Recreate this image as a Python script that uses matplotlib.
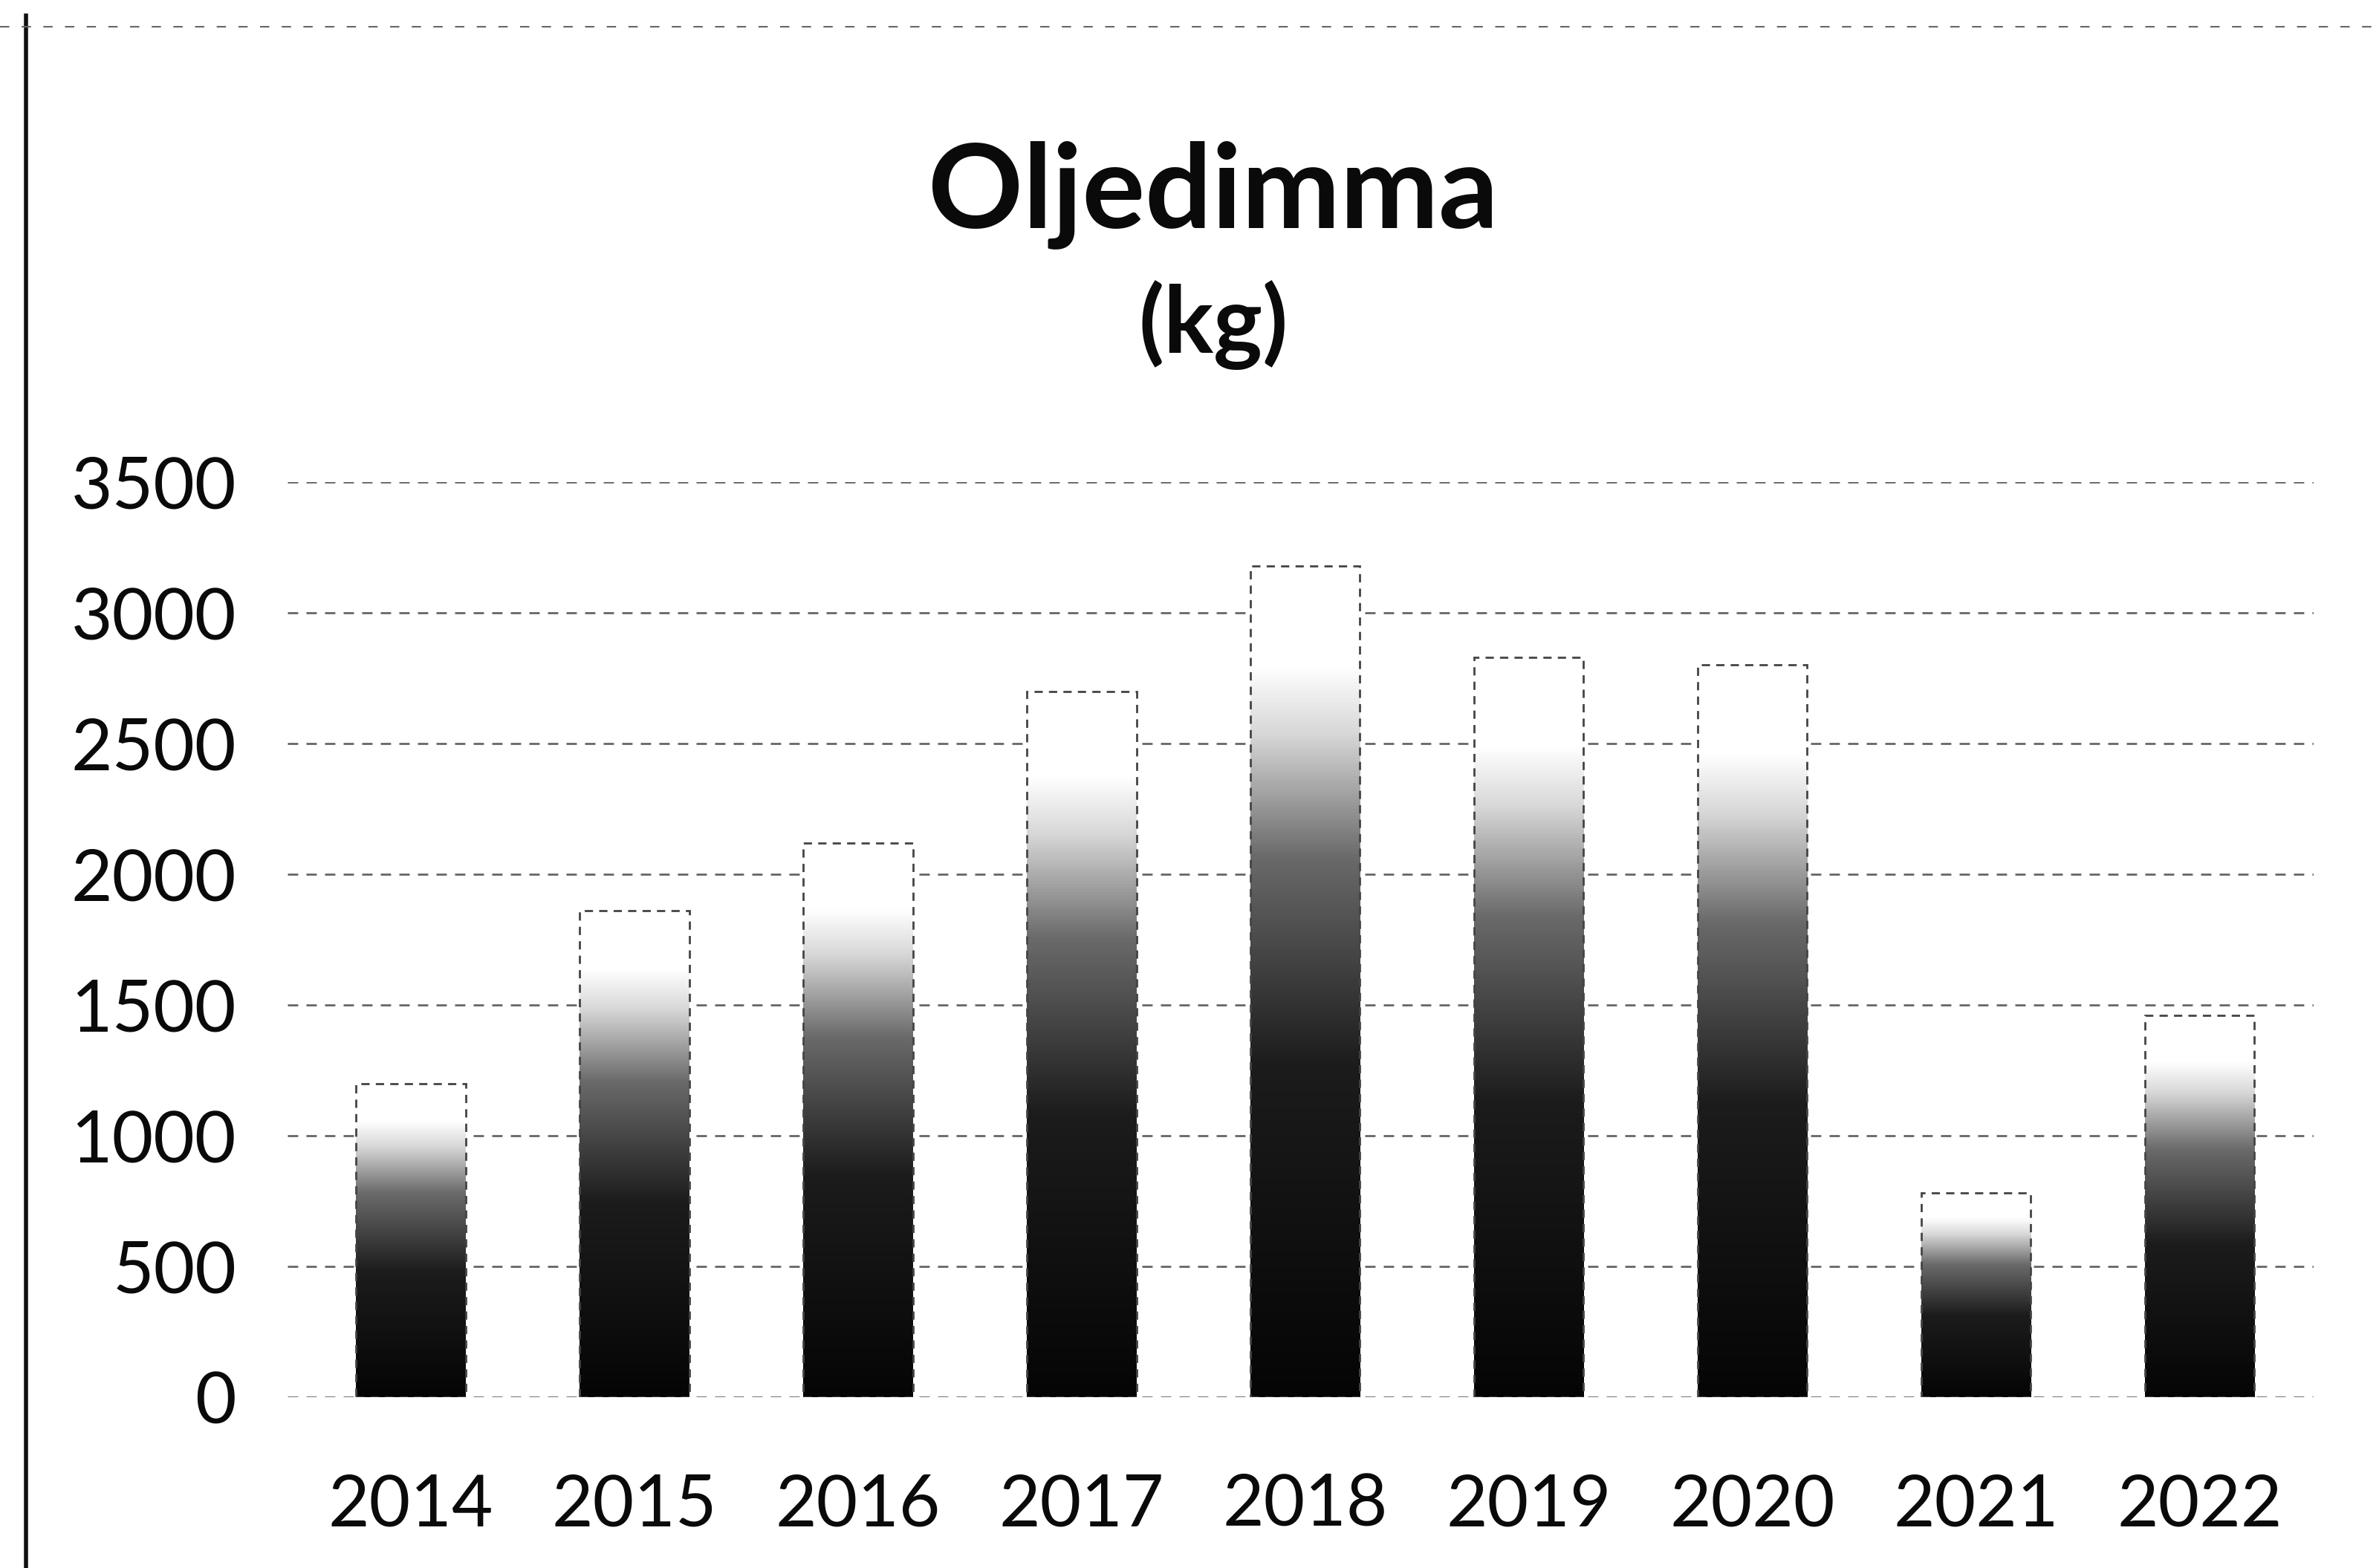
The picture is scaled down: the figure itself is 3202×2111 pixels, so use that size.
import numpy as np
import matplotlib
matplotlib.use('Agg')
import matplotlib.pyplot as plt
from matplotlib.colors import LinearSegmentedColormap
from matplotlib.lines import Line2D

years = ['2014', '2015', '2016', '2017', '2018', '2019', '2020', '2021', '2022']
kg = [1200, 1860, 2120, 2700, 3180, 2830, 2800, 780, 1460]
yticks = [0, 500, 1000, 1500, 2000, 2500, 3000, 3500]

plt.rcParams['font.family'] = ['Lato', 'DejaVu Sans']

fig = plt.figure(figsize=(32.02, 21.11), dpi=100)
ax = fig.add_axes([0.121, 0.109, 0.8515, 0.5836])

x = np.arange(len(years))
bars = ax.bar(x, kg, width=0.49, color='none', edgecolor='#444444',
              linewidth=2, linestyle=(0, (4, 3)), zorder=3)

# dark at the bottom, fading to white near the top (like the scan)
cmap = LinearSegmentedColormap.from_list(
    'scan', [(0, '#050505'), (0.4, '#1c1c1c'), (0.65, '#6a6a6a'),
             (0.8, '#d8d8d8'), (0.88, 'white'), (1, 'white')])
grad = np.linspace(0, 1, 256).reshape(-1, 1)
for b in bars:
    x0, w, h = b.get_x(), b.get_width(), b.get_height()
    im = ax.imshow(grad, cmap=cmap, aspect='auto', origin='lower',
                   extent=(x0, x0 + w, 0, h), zorder=2)
    im.set_clip_path(b)

ax.set_xlim(-0.55, 8.51)
ax.set_ylim(0, 3500)
ax.set_yticks(yticks)
ax.set_xticks(x)
ax.set_xticklabels(years)
ax.grid(axis='y', color='#666666', linewidth=2, linestyle=(0, (5, 4)), zorder=1)
ax.set_axisbelow(True)
for s in ax.spines.values():
    s.set_visible(False)
ax.tick_params(axis='both', length=0, labelsize=69, colors='#0a0a0a')
ax.tick_params(axis='y', pad=50)
ax.tick_params(axis='x', pad=74)

fig.text(0.51, 0.855, 'Oljedimma', ha='center', va='baseline',
         fontsize=114, fontweight='bold', color='#0a0a0a')
fig.text(0.51, 0.775, '(kg)', ha='center', va='baseline',
         fontsize=90, fontweight='bold', color='#0a0a0a')

# scan frame edges
fig.add_artist(Line2D([0.011, 0.011], [0.0, 0.99], transform=fig.transFigure,
                      color='#111111', linewidth=4))
fig.add_artist(Line2D([0.0, 1.0], [0.983, 0.983], transform=fig.transFigure,
                      color='#666666', linewidth=1.5, linestyle=(0, (6, 8))))

fig.savefig('out.png', dpi=100, facecolor='white')
